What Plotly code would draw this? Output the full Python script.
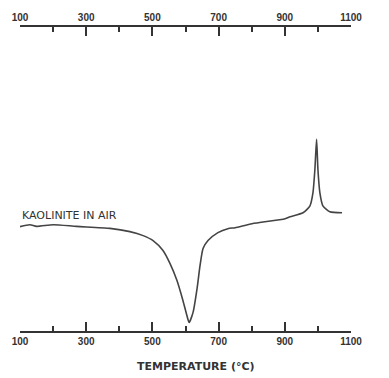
import plotly.graph_objects as go

# Tick labels (temperature, °C)
tick_values = [100, 300, 500, 700, 900, 1100]
tick_labels = ["100", "300", "500", "700", "900", "1100"]

# DTA curve of kaolinite in air
temperature = [100, 130, 150, 200, 271, 372, 432, 472, 502, 532, 553, 574, 592, 608, 611,
               623, 635, 644, 653, 668, 698, 728, 750, 801, 901, 916, 955, 976, 985, 991,
               996, 1000, 1006, 1015, 1036, 1073]
deflection = [105, 107, 105.3, 107, 105.3, 103.3, 100, 96, 91, 81, 68, 51, 31, 11, 8.5,
              19, 43, 66, 83, 91, 99, 103, 104, 108, 113, 115, 119, 126, 139, 163,
              193, 163, 139, 126, 120, 119]

label_text = "KAOLINITE IN AIR"
x_title = "TEMPERATURE (°C)"

ink = "#333333"

fig = go.Figure()
fig.add_trace(go.Scatter(
    x=temperature, y=deflection, mode="lines",
    line=dict(color="#444444", width=1.6, shape="spline", smoothing=0.6),
    hoverinfo="skip", showlegend=False))
# invisible trace to anchor the top axis
fig.add_trace(go.Scatter(
    x=[tick_values[0], tick_values[-1]], y=[0, 0], xaxis="x2", mode="markers",
    marker=dict(opacity=0), hoverinfo="skip", showlegend=False))

axis_common = dict(
    range=[100, 1100], tickmode="array", tickvals=tick_values, ticktext=tick_labels,
    ticks="inside", ticklen=9, tickwidth=1.5, tickcolor=ink,
    showline=True, linecolor=ink, linewidth=1.5, showgrid=False, zeroline=False,
    tickfont=dict(family="Liberation Sans, Arial, sans-serif", size=10, color=ink,
                  weight="bold"),
    minor=dict(ticks="inside", ticklen=5, tickwidth=1.5, tickcolor=ink,
               tick0=100, dtick=100, showgrid=False),
)

L, R, T, B = 20, 38, 25, 47
W, H = 389, 378

fig.update_layout(
    width=W, height=H,
    margin=dict(l=L, r=R, t=T, b=B),
    paper_bgcolor="white", plot_bgcolor="white",
    xaxis=dict(**axis_common, side="bottom"),
    xaxis2=dict(**axis_common, side="top", overlaying="x", matches="x"),
    yaxis=dict(range=[0, 306], visible=False),
    annotations=[
        dict(x=100, y=116, xref="x", yref="y", text=label_text, showarrow=False,
             xanchor="left", yanchor="middle",
             font=dict(family="DejaVu Sans, sans-serif", size=11, color=ink)),
        dict(x=(196 - L) / (W - L - R), y=((H - B) - 367) / (H - B - T),
             xref="paper", yref="paper", text=x_title,
             showarrow=False, xanchor="center", yanchor="middle",
             font=dict(family="DejaVu Sans, sans-serif", size=11, color=ink,
                       weight="bold")),
    ],
)

fig.write_html("out.html", config={"displayModeBar": False},
               post_script="document.body.style.margin='0';")
